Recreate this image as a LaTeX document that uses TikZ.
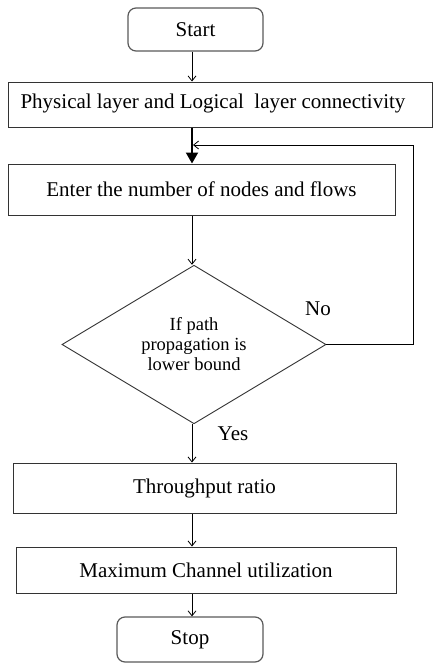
\documentclass[tikz,border=0pt]{standalone}
\usepackage{fontspec}
\setmainfont{Liberation Serif}
\usetikzlibrary{arrows.meta,shapes.geometric}
\begin{document}
\begin{tikzpicture}[x=1pt,y=-1pt,
  txt/.style={font=\fontsize{21}{25}\selectfont},
  termbox/.style={draw=black!65,line width=1.2pt,rounded corners=8pt,txt,inner sep=0pt},
  procbox/.style={draw=black!80,line width=1pt,txt,inner sep=0pt},
  flow/.style={line width=0.8pt,-{Straight Barb[length=5pt,width=8pt]}},
  boldflow/.style={line width=2pt,-{Triangle[length=11pt,width=12pt]}}]
\useasboundingbox (0,0) rectangle (438,672);
\node[termbox,minimum width=135pt,minimum height=43pt] (start) at (195.5,29.5) {Start};
\node[procbox,minimum width=424pt,minimum height=45pt] (phys) at (220,104.5) {};
\node[txt] (physt) at (213,103.5) {Physical layer and Logical\ \ layer connectivity};
\node[procbox,minimum width=387pt,minimum height=51pt] (enter) at (201.5,189.5) {Enter the number of nodes and flows};
\node[draw=black!80,line width=0.9pt,shape=diamond,inner sep=0pt,minimum width=264pt,minimum height=158pt,
  align=center,font=\fontsize{18.5}{20}\selectfont] (dec) at (194,344.5) {If path\\propagation is\\lower bound};
\node[procbox,minimum width=383pt,minimum height=50pt] (thr) at (204.5,488) {Throughput ratio};
\node[procbox,minimum width=380pt,minimum height=46pt] (maxc) at (206,570) {Maximum Channel utilization};
\node[termbox,minimum width=146pt,minimum height=45pt] (stop) at (190,639.5) {Stop};
\node[txt] (no) at (318,309) {No};
\node[txt] (yes) at (233,434) {Yes};
\coordinate (c1) at (dec.east -| 413,0);
\coordinate (c2) at (413,145);
\coordinate (c3) at (193,145);
\draw[flow] (start.south -| 192,0) -- (phys.north -| 192,0);
\draw[boldflow] (phys.south -| 192,0) -- (enter.north -| 192,0);
\draw[flow] (enter.south -| 192,0) -- (dec.north -| 192,0);
\draw[flow] (dec.east) -- (c1) -- (c2) -- (c3);
\draw[flow] (dec.south -| 192,0) -- (thr.north -| 192,0);
\draw[flow] (thr.south -| 192,0) -- (maxc.north -| 192,0);
\draw[flow] (maxc.south -| 192,0) -- (stop.north -| 192,0);
\end{tikzpicture}
\end{document}
